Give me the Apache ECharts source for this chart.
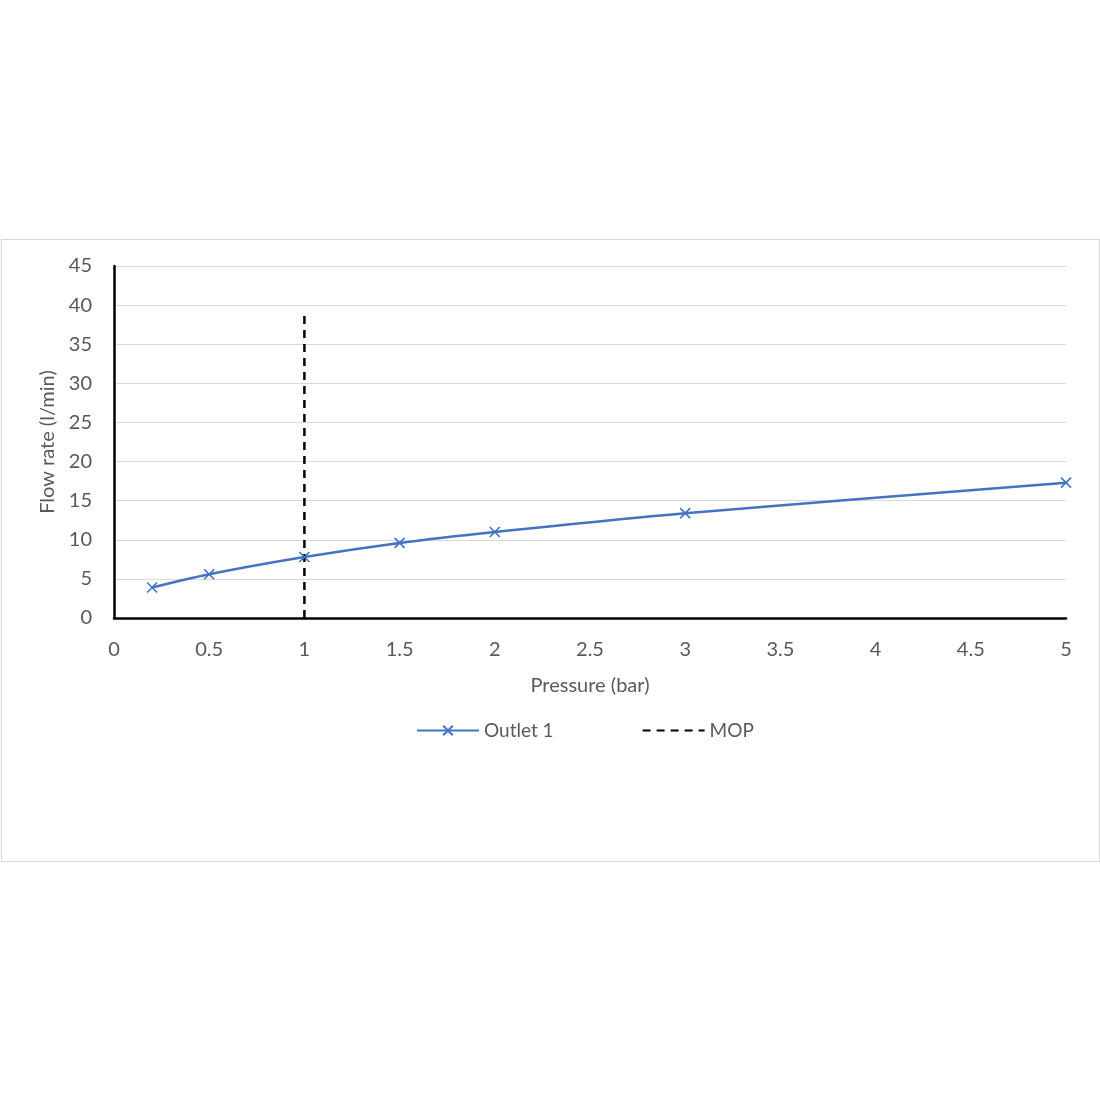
<!DOCTYPE html>
<html>
<head>
<meta charset="utf-8">
<script src="https://cdn.jsdelivr.net/npm/echarts@6/dist/echarts.min.js"></script>
<style>
  body { margin: 0; background: #ffffff; }
  #frame {
    position: absolute; left: 1px; top: 239px;
    width: 1097px; height: 621px;
    border: 1px solid #d9d9d9;
  }
  #chart { position: absolute; left: 0; top: 0; width: 1100px; height: 1100px; }
</style>
</head>
<body>
<div id="frame"></div>
<div id="chart"></div>
<script>
// 压力 (bar) / 流量 (l/min)
const pressure = [0.2, 0.5, 1, 1.5, 2, 3, 5];
const outlet1 = [3.9, 5.6, 7.8, 9.6, 11.0, 13.4, 17.3];
// MOP 竖线
const mopX = [1, 1];
const mopY = [0, 39];

const grey = "#595959";
const font = "Lato, 'Open Sans', sans-serif";
const crossPath = "path://M0,0 L10,10 M10,0 L0,10";

var chart = echarts.init(document.getElementById("chart"));
chart.setOption({
  animation: false,
  textStyle: { fontFamily: font },
  grid: { left: 114, right: 34, top: 266, bottom: 482 },
  legend: {
    top: 716,
    left: 411,
    itemWidth: 62,
    itemHeight: 12,
    itemGap: 88,
    textStyle: { color: grey, fontSize: 19, fontFamily: font },
    data: [
      { name: "Outlet 1" },
      { name: "MOP", itemStyle: { opacity: 0 } }
    ]
  },
  xAxis: {
    type: "value",
    min: 0,
    max: 5,
    interval: 0.5,
    name: "Pressure (bar)",
    nameLocation: "middle",
    nameGap: 58,
    nameTextStyle: { color: grey, fontSize: 20 },
    axisLine: { lineStyle: { color: "#000", width: 2.5 } },
    axisTick: { show: false },
    splitLine: { show: false },
    axisLabel: { color: grey, fontSize: 20, margin: 22 }
  },
  yAxis: {
    type: "value",
    min: 0,
    max: 45,
    interval: 5,
    name: "Flow rate (l/min)",
    nameLocation: "middle",
    nameGap: 56,
    nameTextStyle: { color: grey, fontSize: 20 },
    axisLine: { show: true, lineStyle: { color: "#000", width: 2.5 } },
    axisTick: { show: false },
    splitLine: { lineStyle: { color: "#d9d9d9", width: 1 } },
    axisLabel: { color: grey, fontSize: 20, margin: 22 }
  },
  series: [
    {
      name: "Outlet 1",
      type: "line",
      smooth: 0.3,
      data: pressure.map((p, i) => [p, outlet1[i]]),
      symbol: crossPath,
      symbolSize: 10,
      showAllSymbol: true,
      lineStyle: { color: "#4472c4", width: 2.5 },
      itemStyle: { color: "#4472c4", borderColor: "#4472c4", borderWidth: 1.6 }
    },
    {
      name: "MOP",
      type: "line",
      data: mopX.map((x, i) => [x, mopY[i]]),
      symbol: "none",
      lineStyle: { color: "#000", width: 2.5, type: [8, 6] },
      itemStyle: { color: "#000" }
    }
  ]
});
</script>
</body>
</html>
